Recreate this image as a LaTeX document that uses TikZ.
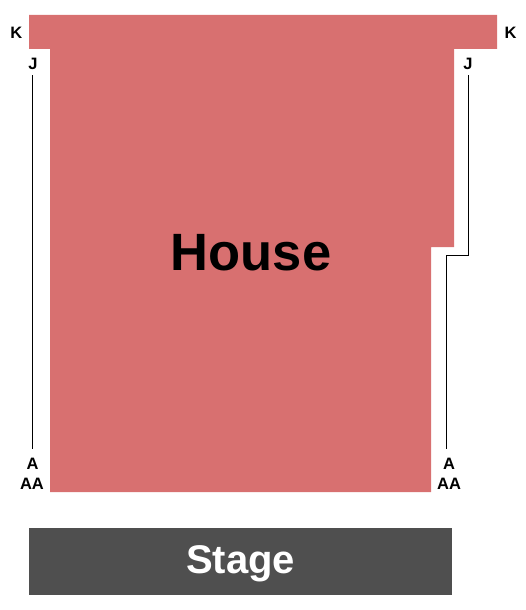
\documentclass[tikz,border=0pt]{standalone}
\usepackage{fontspec}
\setmainfont{Liberation Sans}
\definecolor{housecol}{RGB}{216,112,112}
\definecolor{stagecol}{RGB}{79,79,79}
\begin{document}
\begin{tikzpicture}[x=1pt,y=-1pt,
  rowlabel/.style={font=\fontsize{16.5}{16.5}\selectfont\bfseries,inner sep=0pt,anchor=center},
  rowline/.style={draw=black,line width=1pt}]
\useasboundingbox (0,0) rectangle (525,610);
% House polygon
\fill[housecol] (29,15) -- (497,15) -- (497,49) -- (454,49) -- (454,247) -- (431,247) -- (431,492) -- (50,492) -- (50,49) -- (29,49) -- cycle;
\node[font=\fontsize{52.5}{52.5}\selectfont\bfseries,anchor=base,inner sep=0pt] (house) at (251,270) {House};
% Stage
\node[fill=stagecol,minimum width=423pt,minimum height=67pt,inner sep=0pt,anchor=north west] (stage) at (29,528) {};
\node[font=\fontsize{40}{40}\selectfont\bfseries,text=white,anchor=base,inner sep=0pt] (stagetext) at (240.5,573) {Stage};
% Row labels
\node[rowlabel] (kl) at (16.3,32.5) {K};
\node[rowlabel] (kr) at (510.5,32.5) {K};
\node[rowlabel] (jl) at (33,63.5) {J};
\node[rowlabel] (jr) at (468,63.5) {J};
\node[rowlabel] (al) at (32.5,464) {A};
\node[rowlabel] (aal) at (32,483.5) {AA};
\node[rowlabel] (ar) at (449,464) {A};
\node[rowlabel] (aar) at (449,483.5) {AA};
% Row lines
\coordinate (lt) at (32.3,75);
\coordinate (lb) at (32.3,449);
\coordinate (rt) at (468.3,75);
\coordinate (rm1) at (468.3,255);
\coordinate (rm2) at (446.3,255);
\coordinate (rb) at (446.3,449);
\draw[rowline] (lt) -- (lb);
\draw[rowline] (rt) -- (rm1) -- (rm2) -- (rb);
\end{tikzpicture}
\end{document}
